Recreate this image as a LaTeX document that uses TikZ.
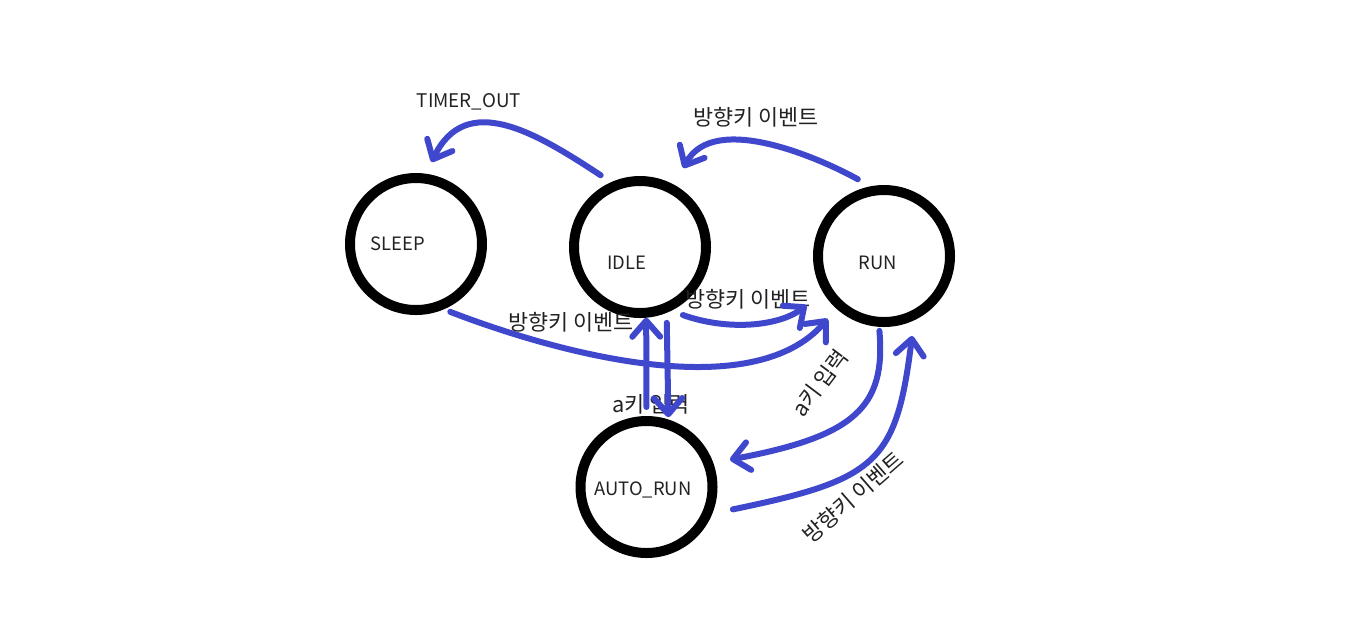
\documentclass[tikz,border=0pt]{standalone}
\usepackage{fontspec}
\setmainfont{Noto Sans CJK KR}
\usepackage{tikz}
\usetikzlibrary{arrows.meta}
\definecolor{paintblue}{HTML}{3F48CC}
\definecolor{labelgray}{HTML}{222222}

\tikzset{
  state/.style={circle, draw=black, line width=5pt, minimum size=66pt, inner sep=0pt},
  statetext/.style={font=\fontsize{9.2}{11}\selectfont, text=labelgray, inner sep=0pt},
  translabel/.style={font=\fontsize{10.9}{13}\selectfont, text=labelgray, inner sep=0pt},
  trans/.style={draw=paintblue, line width=3pt, line cap=round, line join=round,
    -{Straight Barb[length=8pt, width=14pt, round]}},
}

\begin{document}
\begin{tikzpicture}[x=0.5pt, y=-0.5pt]

  % Canvas (pixel grid, y downwards)
  \useasboundingbox (0,0) rectangle (1350,629);

  % States: name / x / y / text / text shift
  \foreach \name/\x/\y/\txt/\dx/\dy in {
    sleep/416/244/SLEEP/-9pt/0pt,
    idle/640/247/IDLE/-6.5pt/-8pt,
    run/884/256/RUN/-3pt/-3.5pt,
    autorun/646.5/487/AUTO\_RUN/-1.75pt/-1.5pt
  } {
    \node[state] (\name) at (\x, \y) {};
    \node[statetext, xshift=\dx, yshift=\dy] (\name text) at (\name) {\txt};
  }

  % Transition labels
  \node[statetext, font=\fontsize{9.4}{11}\selectfont] (timerlbl) at (469, 102) {TIMER\_OUT};
  \node[translabel] (runidlelbl) at (756, 117) {방향키 이벤트};
  \node[translabel] (idlerunlbl) at (748, 299) {방향키 이벤트};
  \node[translabel] (sleeprunlbl) at (571, 322) {방향키 이벤트};
  \node[translabel] (idleautolbl) at (651, 404) {a키 입력};
  \node[translabel, rotate=53] (runautolbl) at (820, 383) {a키 입력};
  \node[translabel, rotate=41] (autorunlbl) at (853, 497) {방향키 이벤트};

  % Transitions
  \draw[trans, shorten <=6.25pt, shorten >=6.5pt]
    (idle.114) .. controls (535,132) and (466,91) .. (sleep.82);
  \draw[trans, shorten <=7.25pt, shorten >=9.5pt]
    (run.101) .. controls (824.6,160.7) and (714,110) .. (idle.61);
  \draw[trans, shorten <=6.25pt, shorten >=10.5pt]
    (idle.-64) .. controls (727.6,331) and (778.8,326.4) .. (run.211);
  \draw[trans, shorten <=3.5pt, shorten >=6.65pt]
    (sleep.-67) .. controls (555.4,352.4) and (751.4,406.6) .. (run.228);
  \draw[trans, shorten <=4.5pt] (autorun.90) -- (idle.-85);
  \draw[trans, shorten <=5pt, shorten >=1.15pt] (idle.-68.5) -- (autorun.72);
  \draw[trans, shorten <=2pt, shorten >=8.5pt]
    (run.266.5) .. controls (886,406.8) and (855,436.3) .. (autorun.20);
  \draw[trans, shorten <=10.5pt, shorten >=7.85pt]
    (autorun.-22) .. controls (876.3,479.8) and (896.3,463.3) .. (run.-65);

\end{tikzpicture}
\end{document}
